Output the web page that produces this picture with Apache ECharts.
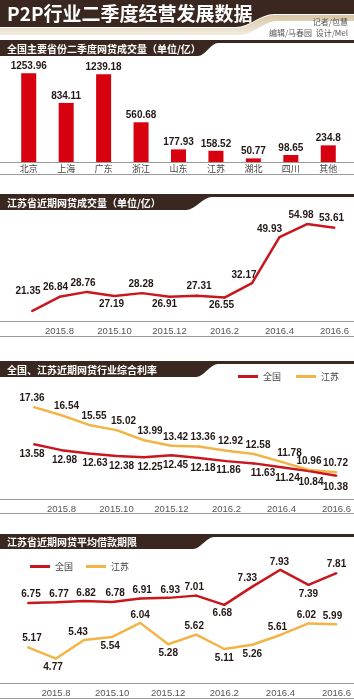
<!DOCTYPE html>
<html>
<head>
<meta charset="utf-8">
<script src="https://cdn.jsdelivr.net/npm/echarts@6/dist/echarts.min.js"></script>
<style>
html, body { margin: 0; padding: 0; background: #fff; }
#main { width: 354px; height: 700px; }
</style>
</head>
<body>
<div id="main"></div>
<script>
// 全国主要省份二季度网贷成交量（亿）
const provinces = ['北京', '上海', '广东', '浙江', '山东', '江苏', '湖北', '四川', '其他'];
const provinceVolume = [1253.96, 834.11, 1239.18, 560.68, 177.93, 158.52, 50.77, 98.65, 234.8];

// 月份 2015.7 ~ 2016.6
const months = ['2015.7', '2015.8', '2015.9', '2015.10', '2015.11', '2015.12',
                '2016.1', '2016.2', '2016.3', '2016.4', '2016.5', '2016.6'];

// 江苏省近期网贷成交量（亿）
const jsVolume = [21.35, 26.84, 28.76, 27.19, 28.28, 26.91, 27.31, 26.55, 32.17, 49.93, 54.98, 53.61];

// 综合利率（%）
const rateNation = [13.58, 12.98, 12.63, 12.38, 12.25, 12.45, 12.18, 11.86, 11.63, 11.24, 10.84, 10.38];
const rateJiangsu = [17.36, 16.54, 15.55, 15.02, 13.99, 13.42, 13.36, 12.92, 12.58, 11.78, 10.96, 10.72];

// 平均借款期限（月）
const termNation = [6.75, 6.77, 6.82, 6.78, 6.91, 6.93, 7.01, 6.68, 7.33, 7.93, 7.39, 7.81];
const termJiangsu = [5.17, 4.77, 5.43, 5.54, 6.04, 5.28, 5.62, 5.11, 5.26, 5.61, 6.02, 5.99];

// 标签偏移（样式，与数据分开）
const volOffsets = [[-4,-20],[-4,-10],[-4,-9],[-3,8],[-1,-9],[-5,8],[2,-9],[-3,8],[-8,-8],[-10,-8],[-6,-9],[-3,-9]];
const rateJsOffsets = [[-2,-9],[5,-9],[5,-9],[7,-9],[6,-9],[4,-9],[4,-9],[4,-9],[4,-9],[8,-9],[0,-9],[-1,-9]];
const rateNaOffsets = [[-2,10],[3,10],[6,10],[5,10],[6,10],[4,10],[4,10],[2,9],[9,10],[6,11],[2,11],[-1,12]];
const termNaOffsets = [[3,-9],[3,-8],[2,-8],[3,-9],[2,-8],[2,-8],[-2,-8],[-2,8],[-5,-8],[-1,-8],[0,9],[0,-9]];
const termJsOffsets = [[4,-9],[-3,9],[-6,-8],[-2,9],[0,-8],[0,9],[-2,-8],[0,9],[0,9],[-3,-8],[-2,-8],[-4,-8]];

const DARK = '#3a2820';
const RED = '#c8171e';
const ORANGE = '#f2b446';
const numFont = "'Liberation Sans', Arial, sans-serif";
const cjkFont = "'Noto Sans CJK SC', sans-serif";

function sCurve(xa, ya, xb, yb) {
    const pts = [];
    for (let i = 0; i <= 16; i++) {
        const t = i / 16;
        const s = 3 * t * t - 2 * t * t * t;
        pts.push([xa + (xb - xa) * t, ya + (yb - ya) * s]);
    }
    return pts;
}

function headerBar(top, bottom, x0, x1, text) {
    const pts = [[0, top], [354, top], [354, top + 3]]
        .concat(sCurve(x1, top + 3, x0, bottom))
        .concat([[0, bottom]]);
    return [
        { type: 'polygon', shape: { points: pts }, style: { fill: DARK } },
        { type: 'text', style: { text: text, x: 7, y: (top + bottom) / 2 + 1, fill: '#fff',
            font: 'bold 10px ' + cjkFont, textVerticalAlign: 'middle' } }
    ];
}

function sepLine(y) {
    return { type: 'line', shape: { x1: 0, y1: y, x2: 354, y2: y },
        style: { stroke: '#9a9a9a', lineWidth: 1 } };
}

const titleDark = [[0, 0], [354, 0], [354, 14]].concat(sCurve(274, 14, 236, 27)).concat([[0, 27]]);
const titleBeige = [[0, 28]].concat(sCurve(236, 28, 274, 15)).concat([[354, 15], [354, 21]])
    .concat(sCurve(277, 21, 240, 35)).concat([[0, 35]]);

const graphics = [
    { type: 'polygon', shape: { points: titleBeige },
      style: { fill: new echarts.graphic.LinearGradient(0, 0, 0, 1, [
          { offset: 0, color: '#d8c6a4' }, { offset: 1, color: '#f3ece0' }]) } },
    { type: 'polygon', shape: { points: titleDark }, style: { fill: DARK } },
    { type: 'text', style: { text: 'P2P行业二季度经营发展数据', x: 7, y: 14, fill: '#fff',
        font: 'bold 19px ' + cjkFont, textVerticalAlign: 'middle' } },
    { type: 'text', style: { text: '记者/包慧', x: 348, y: 22, fill: '#555',
        font: '8px ' + cjkFont, textAlign: 'right', textVerticalAlign: 'middle' } },
    { type: 'text', style: { text: '编辑/马春园  设计/Mel', x: 348, y: 33, fill: '#555',
        font: '8px ' + cjkFont, textAlign: 'right', textVerticalAlign: 'middle' } },
    sepLine(162.5), sepLine(174.5),
    sepLine(321.5), sepLine(336.5),
    sepLine(499.5), sepLine(513.5),
    sepLine(683.5), sepLine(698.5)
]
.concat(headerBar(40, 56, 198, 218, '全国主要省份二季度网贷成交量（单位/亿）'))
.concat(headerBar(194, 210, 186, 212, '江苏省近期网贷成交量（单位/亿）'))
.concat(headerBar(361, 377, 196, 218, '全国、江苏近期网贷行业综合利率'))
.concat(headerBar(534, 549, 193, 214, '江苏省近期网贷平均借款期限'));

const numLabel = {
    show: true, position: 'inside', color: '#231815', fontFamily: numFont,
    fontWeight: 'bold', fontSize: 10
};

function withOffsets(values, offsets) {
    return values.map((v, i) => ({ value: v, label: { offset: offsets[i] } }));
}

function monthAxis(gridIndex) {
    return {
        type: 'category', gridIndex: gridIndex, data: months, boundaryGap: false,
        axisLine: { show: false }, axisTick: { show: false },
        axisLabel: { interval: (i) => i % 2 === 1, color: '#555', fontSize: 9.5,
            fontFamily: numFont, margin: 5 }
    };
}

function lineSeries(name, color, xi, values, offsets) {
    return {
        name: name, type: 'line', xAxisIndex: xi, yAxisIndex: xi,
        data: withOffsets(values, offsets), showSymbol: true, symbol: 'circle', symbolSize: 2,
        lineStyle: { color: color, width: 2.5 }, itemStyle: { color: color },
        label: numLabel, silent: true, animation: false
    };
}

const chart = echarts.init(document.getElementById('main'));
chart.setOption({
    backgroundColor: '#fff',
    animation: false,
    graphic: { elements: graphics },
    legend: [
        { data: ['全国', '江苏'], left: 233, top: 367, icon: 'rect', itemWidth: 20, itemHeight: 3,
          itemGap: 15, textStyle: { color: '#444', fontSize: 9, fontFamily: cjkFont } },
        { data: ['全国', '江苏'], left: 25, top: 557, icon: 'rect', itemWidth: 20, itemHeight: 3,
          itemGap: 13, textStyle: { color: '#444', fontSize: 9, fontFamily: cjkFont } }
    ],
    grid: [
        { left: 10, right: 7, top: 60, bottom: 538 },
        { left: 32, right: 19.5, top: 215, bottom: 379 },
        { left: 34, right: 12, top: 395, bottom: 201 },
        { left: 28, right: 17, top: 565, bottom: 17 }
    ],
    xAxis: [
        { type: 'category', gridIndex: 0, data: provinces,
          axisLine: { show: false }, axisTick: { show: false },
          axisLabel: { color: '#444', fontSize: 9, fontFamily: cjkFont, margin: 2 } },
        monthAxis(1), monthAxis(2), monthAxis(3)
    ],
    yAxis: [
        { type: 'value', gridIndex: 0, min: 0, max: 1440, show: false },
        { type: 'value', gridIndex: 1, min: 17.5, max: 58.5, show: false },
        { type: 'value', gridIndex: 2, min: 8, max: 18.6, show: false },
        { type: 'value', gridIndex: 3, min: 3.9, max: 8.1, show: false }
    ],
    series: [
        { type: 'bar', xAxisIndex: 0, yAxisIndex: 0, data: provinceVolume, barWidth: 15,
          itemStyle: { color: '#d6000f' },
          label: { show: true, position: 'top', distance: 2, color: '#231815',
              fontFamily: numFont, fontWeight: 'bold', fontSize: 10 } },
        lineSeries('成交量', RED, 1, jsVolume, volOffsets),
        lineSeries('江苏', ORANGE, 2, rateJiangsu, rateJsOffsets),
        lineSeries('全国', RED, 2, rateNation, rateNaOffsets),
        lineSeries('全国', RED, 3, termNation, termNaOffsets),
        lineSeries('江苏', ORANGE, 3, termJiangsu, termJsOffsets)
    ]
});
</script>
</body>
</html>
